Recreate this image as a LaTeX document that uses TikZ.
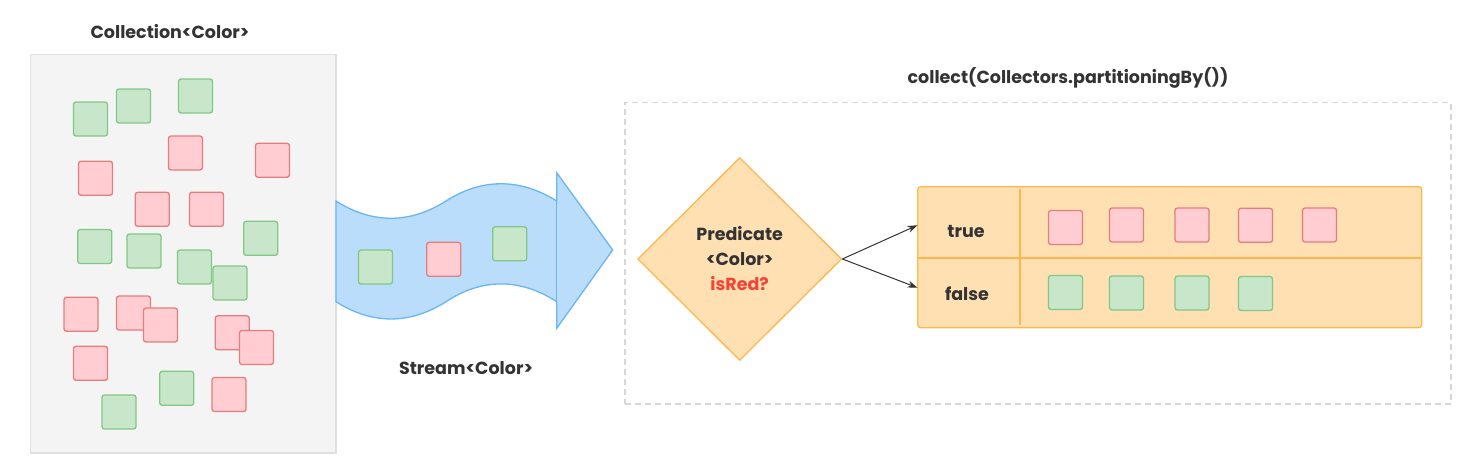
\documentclass[tikz,border=0pt]{standalone}
\usepackage{fontspec}
\setmainfont{Poppins}
\usetikzlibrary{shapes.geometric,arrows.meta}
\definecolor{txt}{HTML}{333333}
\definecolor{gfill}{HTML}{C8E6C9}
\definecolor{gline}{HTML}{82C785}
\definecolor{rfill}{HTML}{FFCDD2}
\definecolor{rline}{HTML}{E57D7D}
\definecolor{colfill}{HTML}{F4F4F4}
\definecolor{colline}{HTML}{E0E0E0}
\definecolor{sfill}{HTML}{B9DDFA}
\definecolor{sline}{HTML}{6AB5F3}
\definecolor{ofill}{HTML}{FFE0B2}
\definecolor{oline}{HTML}{FFB74D}
\definecolor{dashline}{HTML}{D6D6D6}
\definecolor{redtxt}{HTML}{F44336}
\tikzset{
  sq/.style={rectangle, minimum width=34pt, minimum height=34pt, inner sep=0pt, rounded corners=2.5pt, line width=1.3pt},
  gsq/.style={sq, fill=gfill, draw=gline},
  rsq/.style={sq, fill=rfill, draw=rline},
  title/.style={font=\bfseries\fontsize{17.5}{20}\selectfont, text=txt, inner sep=0pt},
  lbl/.style={font=\bfseries\fontsize{17.5}{20}\selectfont, text=txt, inner sep=0pt},
  conn/.style={draw=txt, line width=1pt, -{Stealth[length=10pt,width=7pt]}},
}
\begin{document}
\begin{tikzpicture}[x=1pt,y=-1pt]
\useasboundingbox (0,0) rectangle (1473,474);
% Collection
\node[title] (coltitle) at (170,32) {Collection<Color>};
\node[rectangle, fill=colfill, draw=colline, line width=1.3pt, minimum width=305.7pt, minimum height=398.7pt, inner sep=0pt] (coll) at (183.2,253.7) {};
\node[gsq] (cg1) at (90.5,119) {};
\node[gsq] (cg2) at (133.5,106) {};
\node[gsq] (cg3) at (195.5,96) {};
\node[rsq] (cr1) at (185.5,153) {};
\node[rsq] (cr2) at (272.5,160.3) {};
\node[rsq] (cr3) at (95.5,178.3) {};
\node[rsq] (cr4) at (152.2,209.3) {};
\node[rsq] (cr5) at (206.5,209.3) {};
\node[gsq] (cg4) at (94.7,246.5) {};
\node[gsq] (cg5) at (144,251) {};
\node[gsq] (cg8) at (260.7,238.3) {};
\node[gsq] (cg6) at (194.5,267) {};
\node[gsq] (cg7) at (230,283) {};
\node[rsq] (cr6) at (81,314.3) {};
\node[rsq] (cr7) at (133.5,313) {};
\node[rsq] (cr8) at (160.5,325) {};
\node[rsq] (cr9) at (232.2,332.8) {};
\node[rsq] (cr10) at (256.5,347.5) {};
\node[rsq] (cr11) at (90.5,363.3) {};
\node[gsq] (cg9) at (176.7,388.3) {};
\node[rsq] (cr12) at (229,394.5) {};
\node[gsq] (cg10) at (119,412) {};
% Stream arrow
\draw[fill=sfill, draw=sline, line width=1.3pt, line join=miter]
  (336,201) .. controls (372,224) and (410,224) .. (446,201)
  .. controls (482,178) and (520,178) .. (556.7,201)
  -- (556.7,172.7) -- (612.7,250) -- (556.7,328.3) -- (556.7,301.7)
  .. controls (520,278) and (482,278) .. (446,301.7)
  .. controls (410,324.7) and (372,324.7) .. (336,301.7) -- cycle;
\draw[draw=sline, line width=1.3pt] (556.7,201) -- (556.7,301.7);
\node[gsq] (sg1) at (375.5,267) {};
\node[rsq] (sr1) at (443.7,259.3) {};
\node[gsq] (sg2) at (509.7,243.8) {};
\node[title] (strtitle) at (466,368.3) {Stream<Color>};
% Collect box
\node[title] (coltitle2) at (1068,78) {collect(Collectors.partitioningBy())};
\node[rectangle, draw=dashline, line width=1.3pt, dash pattern=on 6pt off 4pt, minimum width=826pt, minimum height=301.3pt, inner sep=0pt] (collect) at (1038,253.3) {};
% Predicate diamond
\node[diamond, fill=ofill, draw=oline, line width=1.3pt, minimum width=204pt, minimum height=203pt, inner sep=0pt, align=center, font=\bfseries\fontsize{17.5}{25}\selectfont, text=txt] (pred) at (739.7,259)
  {Predicate\\<Color>\\\textcolor{redtxt}{isRed?}};
% Table
\node[rectangle, fill=ofill, draw=oline, line width=1.3pt, rounded corners=3pt, minimum width=504pt, minimum height=141pt, inner sep=0pt] (tbl) at (1169.7,257.2) {};
\node[rectangle, minimum width=504pt, minimum height=71pt, inner sep=0pt] (trueRow) at (1169.7,222.2) {};
\node[rectangle, minimum width=504pt, minimum height=70pt, inner sep=0pt] (falseRow) at (1169.7,292.7) {};
\draw[draw=oline, line width=1.3pt] (trueRow.south west) -- (trueRow.south east);
\draw[draw=oline, line width=1.3pt] (1020,189) -- (1020,325);
\node[lbl] (truelbl) at (966,231.7) {true};
\node[lbl] (falselbl) at (967,293.3) {false};
\node[rsq] (tr1) at (1065.5,227.5) {};
\node[rsq] (tr2) at (1126.5,225) {};
\node[rsq] (tr3) at (1192,225) {};
\node[rsq] (tr4) at (1255.5,225.3) {};
\node[rsq] (tr5) at (1319.5,225) {};
\node[gsq] (fg1) at (1065.5,292.5) {};
\node[gsq] (fg2) at (1126.5,293) {};
\node[gsq] (fg3) at (1192,293) {};
\node[gsq] (fg4) at (1255.5,293.5) {};
% Connectors
\draw[conn] (pred.east) -- ([yshift=-3pt]trueRow.west);
\draw[conn] (pred.east) -- ([yshift=5pt]falseRow.west);
\end{tikzpicture}
\end{document}
